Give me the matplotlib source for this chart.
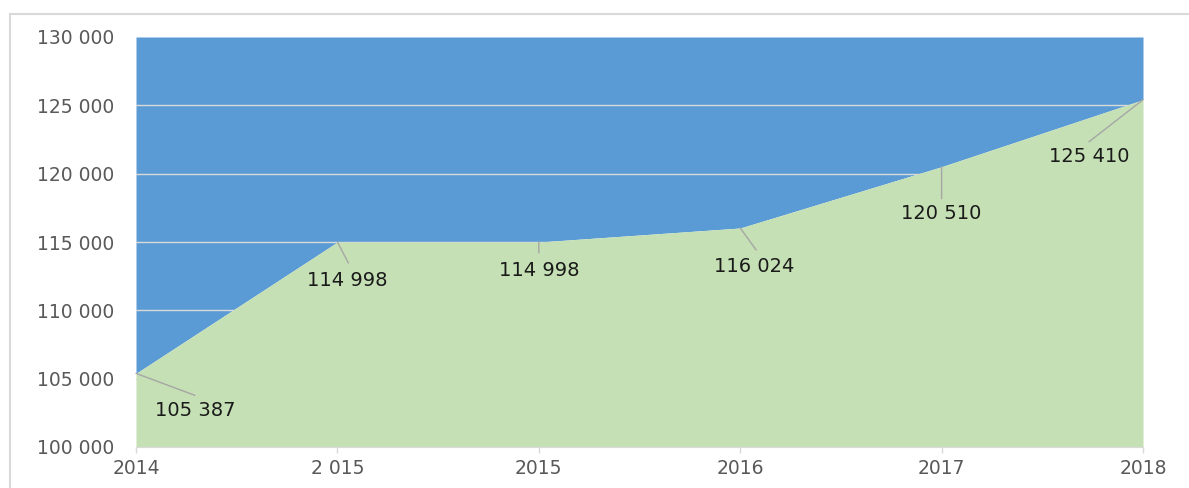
import numpy as np
import matplotlib
matplotlib.use("Agg")
import matplotlib.pyplot as plt
from matplotlib.lines import Line2D

# data
x_labels = ['2014', '2 015', '2015', '2016', '2017', '2018']
values = [105387, 114998, 114998, 116024, 120510, 125410]
y_ticks = [100000, 105000, 110000, 115000, 120000, 125000, 130000]

# label offsets in pixels (label centre, leader end)
label_off = [(59, -37), (10, -38), (0, -28), (14, -38), (0, -47), (-54, -57)]
leader_off = [(59, -22), (11, -21), (0, -11), (16, -22), (0, -32), (-54, -42)]

blue = '#5B9BD5'
green = '#C5E0B4'
W, H = 1189, 488

plt.rcParams['font.family'] = ['DejaVu Sans']
fig = plt.figure(figsize=(W / 100, H / 100), dpi=100)
ax = fig.add_axes([136 / W, (H - 447) / H, (1143 - 136) / W, (447 - 37) / H])

xs = np.arange(len(values))
ax.fill_between(xs, values, y_ticks[-1], color=blue, lw=0, zorder=1)
for v in y_ticks[1:-1]:
    ax.axhline(v, color='#D9D9D9', lw=1, zorder=2)
ax.fill_between(xs, y_ticks[0], values, color=green, lw=0, zorder=3)

ax.set_xlim(0, len(values) - 1)
ax.set_ylim(y_ticks[0], y_ticks[-1])
ax.set_xticks(xs)
ax.set_xticklabels(x_labels)
ax.set_yticks(y_ticks)
ax.set_yticklabels([f"{v:,}".replace(',', ' ') for v in y_ticks])

for s in ['top', 'right', 'left']:
    ax.spines[s].set_visible(False)
ax.spines['bottom'].set_color('#D9D9D9')
ax.spines['bottom'].set_zorder(4)
ax.tick_params(axis='y', length=0, pad=16, labelsize=13.5, labelcolor='#595959')
ax.tick_params(axis='x', length=4, width=1, color='#D9D9D9', pad=5,
               labelsize=13.5, labelcolor='#595959')

for i, v in enumerate(values):
    ax.annotate('', xy=(i, v), xytext=leader_off[i], textcoords='offset pixels',
                arrowprops=dict(arrowstyle='-', color='#A6A6A6', lw=1,
                                shrinkA=0, shrinkB=0), zorder=5)
    ax.annotate(f"{v:,}".replace(',', ' '), xy=(i, v), xytext=label_off[i],
                textcoords='offset pixels', ha='center', va='center',
                fontsize=14, color='#1A1A1A', zorder=6, annotation_clip=False)

# chart border
fig.add_artist(Line2D([10 / W, 1], [(H - 13.5) / H] * 2, color='#D9D9D9', lw=1.5))
fig.add_artist(Line2D([10 / W] * 2, [0, (H - 13.5) / H], color='#D9D9D9', lw=1.5))

fig.savefig('out.png', dpi=100)
